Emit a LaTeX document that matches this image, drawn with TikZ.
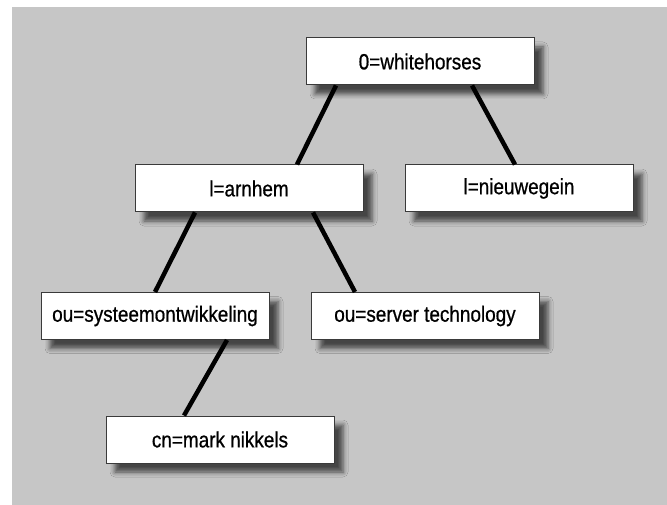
\documentclass[tikz,border=0pt]{standalone}
\usepackage{fontspec}
\setmainfont{Liberation Sans}
\newfontfamily\entryfont[FakeStretch=0.86,FakeBold=0.7]{Liberation Sans}
\usepackage{xcolor}
\usepackage{tikz}
\usetikzlibrary{shadows.blur}

\definecolor{panelgray}{HTML}{C6C6C6}
\definecolor{boxline}{HTML}{3A3A3A}

\tikzset{
  entry/.style={draw=boxline,line width=1pt,fill=white,
    minimum width=228pt,minimum height=47pt,inner sep=0pt,
    font=\entryfont\fontsize{22}{25}\selectfont,
    blur shadow={shadow xshift=9pt,shadow yshift=-9pt,
      shadow blur radius=5pt,shadow opacity=65}},
  link/.style={line width=4.5pt,black}
}

\begin{document}
\begin{tikzpicture}[x=1pt,y=-1pt]
  % page and grey panel
  \useasboundingbox (0,0) rectangle (667,505);
  \fill[white] (0,0) rectangle (667,505);
  \fill[panelgray] (12,7) rectangle (667,505);

  % directory entries
  \node[entry] (root) at (420,61.5) {0=whitehorses};
  \node[entry] (arnhem) at (249,188.5) {l=arnhem};
  \node[entry] (nieuwegein) at (519,188.5) {l=nieuwegein};
  \node[entry] (systeem) at (155,316) {ou=systeemontwikkeling};
  \node[entry] (server) at (425,316) {ou=server technology};
  \node[entry] (nikkels) at (220,439.5) {cn=mark nikkels};

  % tree links
  \draw[link] ([xshift=-84pt]root.south) -- ([xshift=48pt]arnhem.north);
  \draw[link] ([xshift=52pt]root.south) -- ([xshift=-4pt]nieuwegein.north);
  \draw[link] ([xshift=-54pt]arnhem.south) -- (systeem.north);
  \draw[link] ([xshift=64pt]arnhem.south) -- ([xshift=-70pt]server.north);
  \draw[link] ([xshift=72pt]systeem.south) -- ([xshift=-36pt]nikkels.north);
\end{tikzpicture}
\end{document}
